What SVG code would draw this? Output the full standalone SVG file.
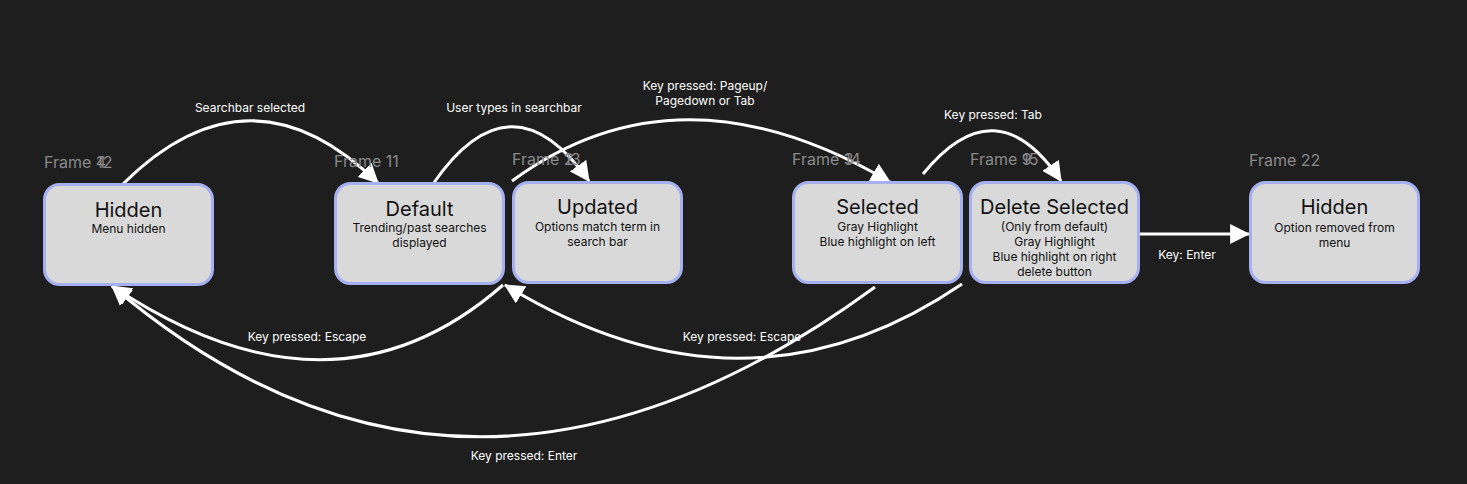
<svg xmlns="http://www.w3.org/2000/svg" width="1467" height="484" viewBox="0 0 1467 484">
<style>
.frame{font-family:Inter,"Noto Sans",sans-serif;font-size:16px;fill:#8a8a8a}
.box{fill:#d9d9d9;stroke:#a5b0f0;stroke-width:3}
.title{font-family:Inter,"Noto Sans",sans-serif;font-size:20px;fill:#111;text-anchor:middle}
.sub{font-family:Inter,"Noto Sans",sans-serif;font-size:12px;fill:#111;text-anchor:middle}
.edge{fill:none;stroke:#fff;stroke-width:3}
.lbl{font-family:Inter,"Noto Sans",sans-serif;font-size:12px;fill:#fff;text-anchor:middle}
</style>
<defs>
<marker id="arr" markerUnits="userSpaceOnUse" markerWidth="20" markerHeight="20" viewBox="0 0 18 18" refX="17" refY="9" orient="auto">
<path d="M0,0 L18,9 L0,18 z" fill="#fff"/>
</marker>
</defs>
<rect width="1467" height="484" fill="#1e1e1e"/>

<g id="edges">
<path class="edge" d="M123,184 Q250,58 378,183" marker-end="url(#arr)"/>
<path class="edge" d="M433,184 Q511,71 589,181" marker-end="url(#arr)"/>
<path class="edge" d="M512,181 Q679,58 890,182" marker-end="url(#arr)"/>
<path class="edge" d="M923,174 Q996,84 1061,181" marker-end="url(#arr)"/>
<path class="edge" d="M1140,234 L1249,234" marker-end="url(#arr)"/>
<path class="edge" d="M503,285 Q333,434 112,286" marker-end="url(#arr)"/>
<path class="edge" d="M875,287 Q466,587 112,286" marker-end="url(#arr)"/>
<path class="edge" d="M962,284 Q745,432 505,285" marker-end="url(#arr)"/>
<text class="lbl" x="250" y="112">Searchbar selected</text>
<text class="lbl" x="514" y="112">User types in searchbar</text>
<text class="lbl" x="705" y="90">Key pressed: Pageup/</text>
<text class="lbl" x="705" y="105">Pagedown or Tab</text>
<text class="lbl" x="993" y="119">Key pressed: Tab</text>
<text class="lbl" x="1187" y="259">Key: Enter</text>
<text class="lbl" x="307" y="341">Key pressed: Escape</text>
<text class="lbl" x="742" y="341">Key pressed: Escape</text>
<text class="lbl" x="524" y="460">Key pressed: Enter</text>
</g>

<g id="node-hidden-menu">
<text class="frame" x="44" y="168">Frame 4<tspan dx="-0.6em">12</tspan></text>
<rect class="box" x="44.5" y="184.5" width="168" height="100" rx="15"/>
<text class="title" x="128.5" y="217">Hidden</text>
<text class="sub" x="128.5" y="233">Menu hidden</text>
</g>

<g id="node-default">
<text class="frame" x="334" y="167">Frame 11</text>
<rect class="box" x="335.5" y="183.5" width="168" height="100" rx="15"/>
<text class="title" x="419.5" y="216">Default</text>
<text class="sub" x="419.5" y="232">Trending/past searches</text>
<text class="sub" x="419.5" y="247">displayed</text>
</g>

<g id="node-updated">
<text class="frame" x="512" y="165">Frame 2<tspan dx="-0.58em">13</tspan></text>
<rect class="box" x="513.5" y="182.5" width="168" height="100" rx="15"/>
<text class="title" x="597.5" y="214">Updated</text>
<text class="sub" x="597.5" y="231">Options match term in</text>
<text class="sub" x="597.5" y="246">search bar</text>
</g>

<g id="node-selected">
<text class="frame" x="792" y="165">Frame 3<tspan dx="-0.6em">14</tspan></text>
<rect class="box" x="793.5" y="182.5" width="168" height="100" rx="15"/>
<text class="title" x="877.5" y="214">Selected</text>
<text class="sub" x="877.5" y="231">Gray Highlight</text>
<text class="sub" x="877.5" y="246">Blue highlight on left</text>
</g>

<g id="node-delete-selected">
<text class="frame" x="970" y="165">Frame 9<tspan dx="-0.6em">15</tspan></text>
<rect class="box" x="970.5" y="182.5" width="168" height="100" rx="15"/>
<text class="title" x="1054.5" y="214">Delete Selected</text>
<text class="sub" x="1054.5" y="231">(Only from default)</text>
<text class="sub" x="1054.5" y="246">Gray Highlight</text>
<text class="sub" x="1054.5" y="261">Blue highlight on right</text>
<text class="sub" x="1054.5" y="276">delete button</text>
</g>

<g id="node-hidden-option">
<text class="frame" x="1249" y="166">Frame 22</text>
<rect class="box" x="1250.5" y="182.5" width="168" height="100" rx="15"/>
<text class="title" x="1334.5" y="214">Hidden</text>
<text class="sub" x="1334.5" y="232">Option removed from</text>
<text class="sub" x="1334.5" y="247">menu</text>
</g>
</svg>
